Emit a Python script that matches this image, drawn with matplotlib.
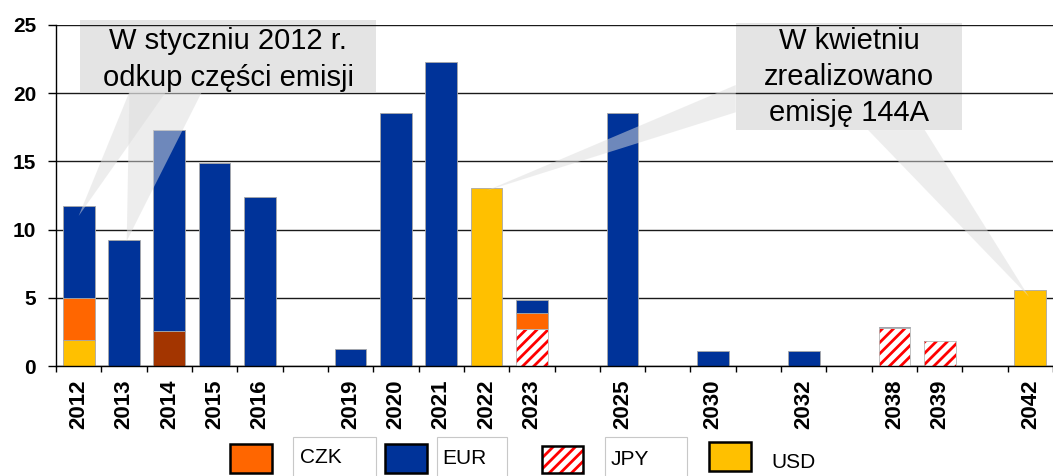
import matplotlib
matplotlib.use('Agg')
import matplotlib.pyplot as plt
from matplotlib.patches import Rectangle, Polygon
import numpy as np

plt.rcParams['font.family'] = ['Liberation Sans', 'DejaVu Sans']
plt.rcParams['hatch.linewidth'] = 2.0

# ---- data ----
years = ['2012', '2013', '2014', '2015', '2016', '', '2019', '2020', '2021', '2022', '2023',
         '', '2025', '', '2030', '', '2032', '', '2038', '2039', '', '2042']
usd   = [1.9, 0, 0, 0, 0, 0, 0, 0, 0, 13.03, 0, 0, 0, 0, 0, 0, 0, 0, 0, 0, 0, 5.57]
jpy   = [0, 0, 0, 0, 0, 0, 0, 0, 0, 0, 2.69, 0, 0, 0, 0, 0, 0, 0, 2.76, 1.81, 0, 0]
other = [0, 0, 2.57, 0, 0, 0, 0, 0, 0, 0, 0, 0, 0, 0, 0, 0, 0, 0, 0, 0, 0, 0]
czk   = [3.1, 0, 0, 0, 0, 0, 0, 0, 0, 0, 1.2, 0, 0, 0, 0, 0, 0, 0, 0, 0, 0, 0]
eur   = [6.75, 9.24, 14.73, 14.86, 12.41, 0, 1.25, 18.52, 22.3, 0, 0.95, 0, 18.52, 0,
         1.07, 0, 1.07, 0, 0.07, 0, 0, 0]

legend_names = ['CZK', 'EUR', 'JPY', 'USD']
callout1 = 'W styczniu 2012 r.\nodkup części emisji'
callout2 = 'W kwietniu\nzrealizowano\nemisję 144A'

colors = {'USD': '#FFC000', 'JPY': '#FF0000', 'other': '#A33500',
          'CZK': '#FF6600', 'EUR': '#003399'}

# ---- figure ----
W, H = 1053, 476
fig = plt.figure(figsize=(W / 100, H / 100), dpi=100)
ax = fig.add_axes([56 / W, 110 / H, 997 / W, 341 / H])

x = np.arange(len(years))
bottom = np.zeros(len(years))
width = 0.7
for name, vals in [('USD', usd), ('JPY', jpy), ('other', other), ('CZK', czk), ('EUR', eur)]:
    v = np.array(vals, dtype=float)
    m = v > 0
    if name == 'JPY':
        ax.bar(x[m], v[m], width, bottom=bottom[m], color='white', edgecolor=colors['JPY'],
               hatch='///', linewidth=0, zorder=2)
        ax.bar(x[m], v[m], width, bottom=bottom[m], fill=False, edgecolor='#B8B8B8',
               linewidth=0.6, zorder=2.1)
    else:
        ax.bar(x[m], v[m], width, bottom=bottom[m], color=colors[name], edgecolor='#A8A8A8',
               linewidth=0.6, zorder=2)
    bottom += v

totals = bottom

ax.set_xlim(-0.5, 21.36)
ax.set_ylim(0, 25)
ax.set_yticks(range(0, 26, 5))
ax.set_axisbelow(True)
ax.yaxis.grid(True, color='#1a1a1a', linewidth=1.0)
for s in ['top', 'right']:
    ax.spines[s].set_visible(False)
ax.spines['left'].set_color('black')
ax.spines['bottom'].set_color('black')
ax.spines['left'].set_linewidth(1.0)
ax.spines['bottom'].set_linewidth(1.0)

ax.set_xticks(x)
ax.set_xticklabels(years, rotation=90, fontsize=16, fontweight='bold')
ax.tick_params(axis='x', which='major', length=0, pad=10)
ax.set_xticks(np.arange(-0.5, len(years), 1.0), minor=True)
ax.tick_params(axis='x', which='minor', length=4.5, width=1.0, color='black')
ax.tick_params(axis='y', length=5.8, width=1.0, color='black', pad=8.5, labelsize=15)
for lab in ax.get_yticklabels():
    lab.set_fontweight('bold')

# ---- callouts ----
box_kw = dict(facecolor='#E4E4E4', edgecolor='none', zorder=0.3, clip_on=False)
wedge_kw = dict(facecolor='#DDDDDD', edgecolor='none', alpha=0.5, zorder=3, clip_on=False)

ax.add_patch(Rectangle((0.03, 20.1), 6.53, 5.27, **box_kw))
ax.text(3.3, 22.47, callout1, ha='center', va='center', fontsize=21,
        linespacing=1.38, zorder=4)
ax.add_patch(Polygon([(1.12, 20.1), (1.93, 20.1), (0.0, totals[0] - 0.75)], **wedge_kw))
ax.add_patch(Polygon([(1.12, 20.1), (2.72, 20.1), (1.06, totals[1] - 0.08)], **wedge_kw))

ax.add_patch(Rectangle((14.5, 17.3), 5.0, 7.87, **box_kw))
ax.text(17.0, 21.19, callout2, ha='center', va='center', fontsize=21,
        linespacing=1.38, zorder=4)
ax.add_patch(Polygon([(14.5, 20.6), (14.5, 18.6), (9.0, totals[9] - 0.18)], **wedge_kw))
ax.add_patch(Polygon([(17.42, 17.3), (18.67, 17.3), (20.97, totals[21] - 0.5)], **wedge_kw))

# ---- legend (manual, pixel layout) ----
lax = fig.add_axes([0, 0, 1, 1])
lax.set_xlim(0, W)
lax.set_ylim(H, 0)
lax.axis('off')
lax.patch.set_alpha(0)

sw_x = [230, 385, 542, 709]
sw_y = [444, 444, 446, 442]
lbl_box = [(293, 376), (437, 507), (605, 687), None]
txt_x = [300, 442, 611, 771]
txt_y = [463, 464, 465, 468]
for i, name in enumerate(legend_names):
    if lbl_box[i] is not None:
        x0, x1 = lbl_box[i]
        lax.add_patch(Rectangle((x0, 437), x1 - x0, 50, facecolor='white',
                                edgecolor='#C8C8C8', linewidth=0.8, clip_on=False))
    if name == 'JPY':
        lax.add_patch(Rectangle((sw_x[i], sw_y[i]), 41, 27, facecolor='white',
                                edgecolor=colors['JPY'], hatch='///', linewidth=0))
        lax.add_patch(Rectangle((sw_x[i], sw_y[i]), 41, 27, fill=False,
                                edgecolor='black', linewidth=1.8))
    else:
        lax.add_patch(Rectangle((sw_x[i], sw_y[i]), 42, 29, facecolor=colors[name],
                                edgecolor='black', linewidth=1.8))
    lax.text(txt_x[i], txt_y[i], name, fontsize=15, ha='left', va='baseline')

fig.savefig('out.png', dpi=100)
